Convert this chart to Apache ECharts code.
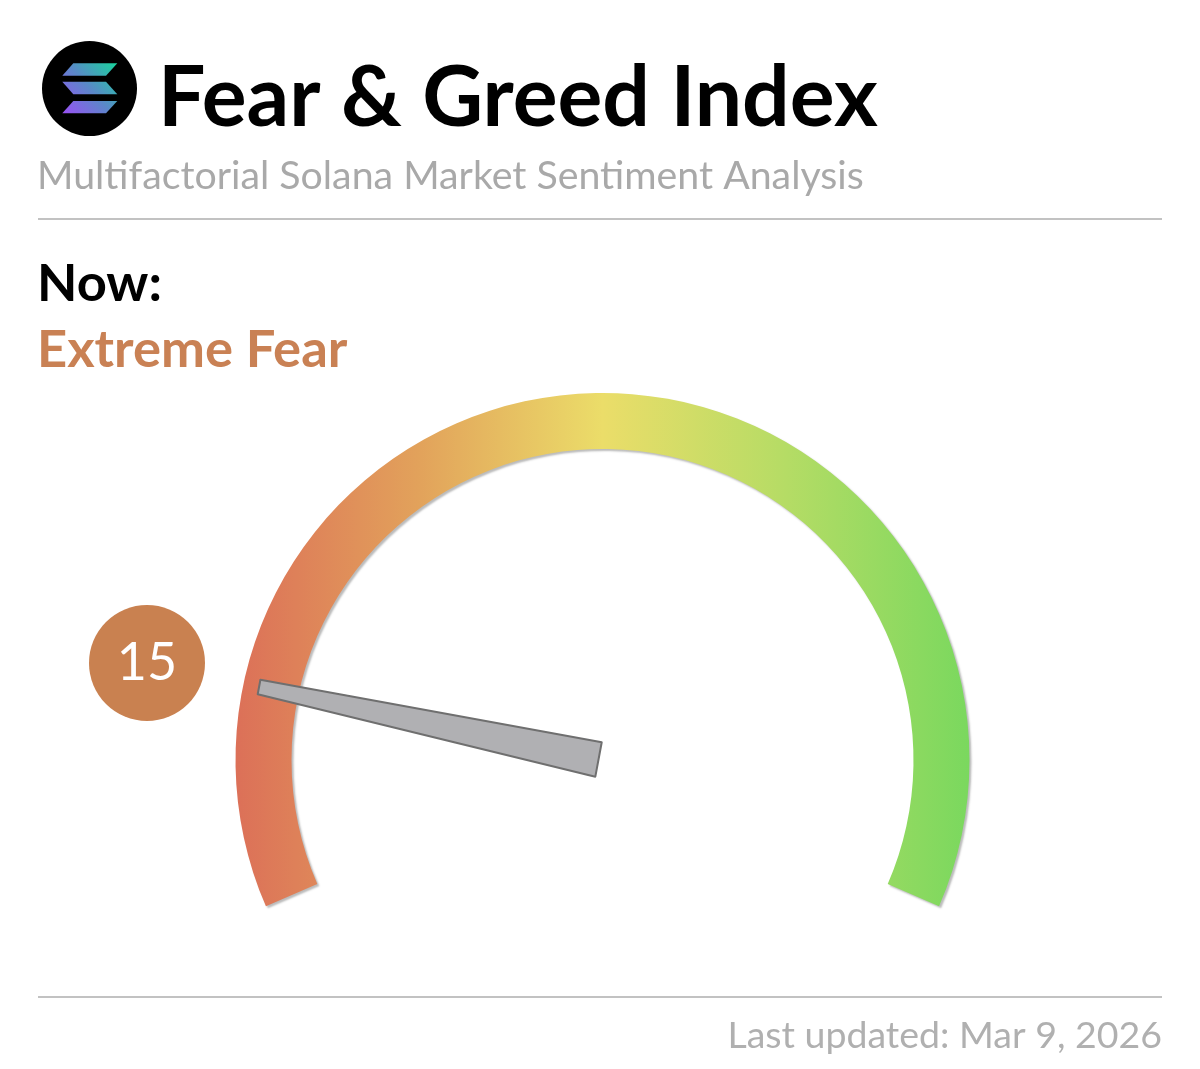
<!DOCTYPE html>
<html>
<head>
<meta charset="utf-8">
<title>Fear & Greed Index</title>
<script src="https://cdn.jsdelivr.net/npm/echarts@6/dist/echarts.min.js"></script>
<style>
  html, body { margin: 0; padding: 0; background: #fff; }
  #chart { width: 1200px; height: 1069px; }
</style>
</head>
<body>
<div id="chart"></div>
<script>
// --- data ---
const indexValue = 15;
const indexMin = 0;
const indexMax = 100;
const sentiment = 'Extreme Fear';
const headline = 'Fear & Greed Index';
const subtitle = 'Multifactorial Solana Market Sentiment Analysis';
const nowLabel = 'Now:';
const updated = 'Last updated: Mar 9, 2026';

const FONT = 'Lato, "Open Sans", sans-serif';
const chart = echarts.init(document.getElementById('chart'));

// sweep of the dial runs left to right, colour runs across the width
const dialColor = new echarts.graphic.LinearGradient(0, 0, 1, 0, [
    { offset: 0, color: '#dc7058' },
    { offset: 0.25, color: '#e2a25b' },
    { offset: 0.5, color: '#ebdd69' },
    { offset: 0.75, color: '#b5dc65' },
    { offset: 1, color: '#7ad85e' }
]);

// solana mark, one gradient shared by the three bars
const logoFill = new echarts.graphic.LinearGradient(62, 113, 117, 63, [
    { offset: 0, color: '#9a50f5' },
    { offset: 0.5, color: '#5a88c8' },
    { offset: 1, color: '#18d49c' }
], true);

function logoBar(points) {
    return { type: 'polygon', shape: { points }, style: { fill: logoFill } };
}

function rule(y) {
    return {
        type: 'line',
        shape: { x1: 38, y1: y, x2: 1162, y2: y },
        style: { stroke: '#c2c2c2', lineWidth: 2 }
    };
}

function textTitle(text, pos, fontSize, fontWeight, color) {
    return { text, ...pos, padding: 0, textStyle: { fontFamily: FONT, fontSize, fontWeight, color } };
}

chart.setOption({
    backgroundColor: '#fff',
    animation: false,
    title: [
        textTitle(headline, { left: 158, top: 57 }, 84, 700, '#000'),
        textTitle(subtitle, { left: 37, top: 157 }, 39.3, 400, '#a9a9a9'),
        textTitle(nowLabel, { left: 37, top: 258 }, 52.5, 700, '#000'),
        textTitle(sentiment, { left: 37, top: 324 }, 52.5, 700, '#c98154'),
        textTitle(updated, { right: 38, top: 1017 }, 37.5, 400, '#b0b0b0')
    ],
    graphic: [
        rule(219),
        rule(997),
        { type: 'circle', shape: { cx: 89.5, cy: 88.5, r: 47.5 }, style: { fill: '#000' } },
        logoBar([[73.3, 63.3], [117.3, 63.3], [106, 75.7], [62.3, 75.7]]),
        logoBar([[62.3, 81.7], [106, 81.7], [117.3, 94.3], [73.3, 94.3]]),
        logoBar([[73.3, 101], [117.3, 101], [106, 113.3], [62.3, 113.3]])
    ],
    series: [{
        type: 'gauge',
        center: [602.5, 760],
        radius: 367,
        startAngle: 203.5,
        endAngle: -23.5,
        min: indexMin,
        max: indexMax,
        axisLine: {
            lineStyle: {
                width: 56,
                color: [[1, dialColor]],
                shadowColor: 'rgba(60,60,60,0.35)',
                shadowBlur: 2,
                shadowOffsetX: 2,
                shadowOffsetY: 2
            }
        },
        axisTick: { show: false },
        splitLine: { show: false },
        axisLabel: { show: false },
        anchor: { show: false },
        title: { show: false },
        pointer: {
            // tip sits off the axis so the needle lies like the drawn one
            icon: 'path://M55,0 L97,0 L100,100 L0,100 Z',
            length: 347,
            width: 35,
            // offset is in the needle's own rotated frame
            offsetCenter: [-0.2, -4],
            itemStyle: { color: '#b0b0b3', borderColor: '#6f6f6f', borderWidth: 2, borderJoin: 'round' }
        },
        detail: {
            offsetCenter: [-455.5, -97],
            padding: 0,
            width: 116,
            height: 116,
            lineHeight: 116,
            borderRadius: 58,
            backgroundColor: '#c98150',
            color: '#fff',
            fontFamily: FONT,
            fontSize: 52,
            fontWeight: 400,
            formatter: '{value}'
        },
        data: [{ value: indexValue, name: sentiment }]
    }]
});

window.addEventListener('resize', () => chart.resize());
</script>
</body>
</html>
